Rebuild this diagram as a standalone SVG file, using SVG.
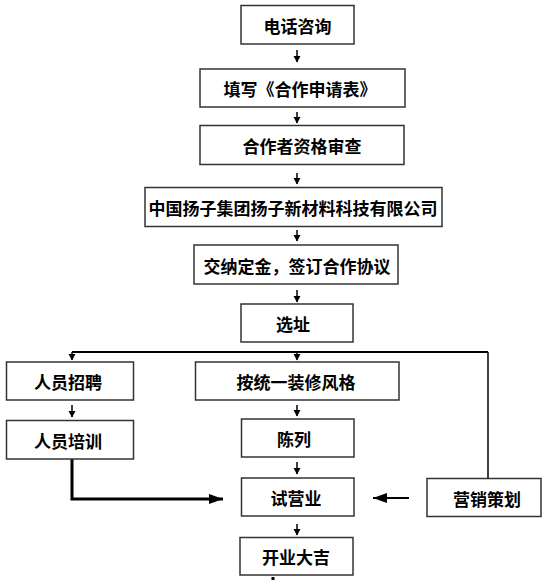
<svg xmlns="http://www.w3.org/2000/svg" width="548" height="580" viewBox="0 0 548 580">
<style>
.box{fill:#fff;stroke:#333;stroke-width:1.5}
.t{font-family:"Noto Sans CJK SC","Noto Sans",sans-serif;font-size:17px;font-weight:700;fill:#000;text-anchor:middle;dominant-baseline:central}
.ln{stroke:#000;stroke-width:1.5;fill:none}
.thick{stroke:#000;stroke-width:3;fill:none}
</style>
<defs>
<marker id="a" markerUnits="userSpaceOnUse" markerWidth="8" markerHeight="9" refX="6" refY="4.5" orient="auto">
<path d="M0,1 L6.5,4.5 L0,8 Z" fill="#000"/>
</marker>
<marker id="b" markerUnits="userSpaceOnUse" markerWidth="16" markerHeight="12" refX="14" refY="6" orient="auto">
<path d="M0,1 L14,6 L0,11 Z" fill="#000"/>
</marker>
</defs>
<rect width="548" height="580" fill="#fff"/>
<g id="connectors">
<line class="ln" x1="297" y1="50" x2="297" y2="62" marker-end="url(#a)"/>
<line class="ln" x1="297" y1="112" x2="297" y2="123" marker-end="url(#a)"/>
<line class="ln" x1="297" y1="173" x2="297" y2="184" marker-end="url(#a)"/>
<line class="ln" x1="297" y1="230" x2="297" y2="241" marker-end="url(#a)"/>
<line class="ln" x1="297" y1="290" x2="297" y2="302" marker-end="url(#a)"/>
<polyline points="72,352 488,352" style="stroke:#000;stroke-width:2;fill:none"/>
<line class="ln" x1="488" y1="352" x2="488" y2="478"/>
<line class="ln" x1="72" y1="352" x2="72" y2="360" marker-end="url(#a)"/>
<line class="ln" x1="297" y1="352" x2="297" y2="360" marker-end="url(#a)"/>
<line class="ln" x1="72" y1="405" x2="72" y2="417" marker-end="url(#a)"/>
<line class="ln" x1="297" y1="405" x2="297" y2="416" marker-end="url(#a)"/>
<line class="ln" x1="297" y1="462" x2="297" y2="474" marker-end="url(#a)"/>
<line class="ln" x1="297" y1="524" x2="297" y2="535" marker-end="url(#a)"/>
<polyline class="thick" points="72,459 72,499 223,499" marker-end="url(#b)"/>
<line x1="409" y1="498" x2="373" y2="498" style="stroke:#000;stroke-width:2" marker-end="url(#b)"/>
<line x1="273" y1="577" x2="273" y2="580" style="stroke:#000;stroke-width:3"/>
</g>
<g id="n1"><rect class="box" x="241" y="5.5" width="113" height="38.5"/><text class="t" x="297.5" y="25.5">电话咨询</text></g>
<g id="n2"><rect class="box" x="200" y="69" width="205" height="38"/><text class="t" x="300" y="88.5">填写《合作申请表》</text></g>
<g id="n3"><rect class="box" x="200" y="125.5" width="204" height="39"/><text class="t" x="302" y="145.5">合作者资格审查</text></g>
<g id="n4"><rect class="box" x="145" y="187.5" width="297" height="39"/><text class="t" x="293" y="207.5">中国扬子集团扬子新材料科技有限公司</text></g>
<g id="n5"><rect class="box" x="194" y="245" width="204" height="39"/><text class="t" x="297" y="265">交纳定金，签订合作协议</text></g>
<g id="n6"><rect class="box" x="241" y="304" width="112" height="38"/><text class="t" x="293" y="323.5">选址</text></g>
<g id="n7"><rect class="box" x="6.5" y="362" width="127" height="38"/><text class="t" x="68" y="381.5">人员招聘</text></g>
<g id="n8"><rect class="box" x="195.5" y="362" width="203.5" height="38"/><text class="t" x="296" y="381.5">按统一装修风格</text></g>
<g id="n9"><rect class="box" x="6.5" y="420.5" width="127" height="38.5"/><text class="t" x="68" y="440">人员培训</text></g>
<g id="n10"><rect class="box" x="241.5" y="419" width="112.5" height="38"/><text class="t" x="294" y="438.5">陈列</text></g>
<g id="n11"><rect class="box" x="241.5" y="478" width="112.5" height="38"/><text class="t" x="296" y="497.5">试营业</text></g>
<g id="n12"><rect class="box" x="427" y="478.5" width="114" height="38"/><text class="t" x="487" y="498">营销策划</text></g>
<g id="n13"><rect class="box" x="240" y="537.5" width="113" height="37.5"/><text class="t" x="296" y="556.5">开业大吉</text></g>
</svg>
